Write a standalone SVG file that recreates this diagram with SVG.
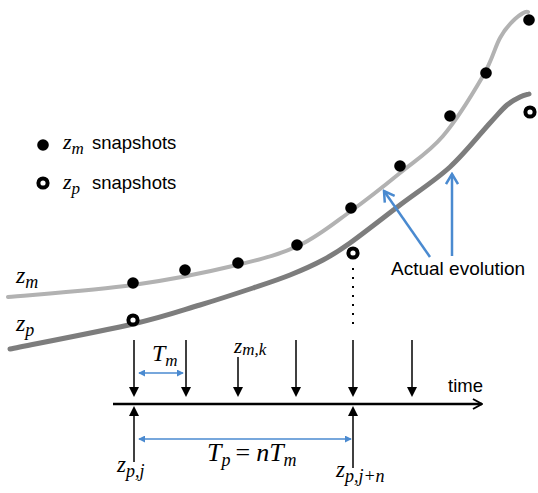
<svg xmlns="http://www.w3.org/2000/svg" width="538" height="493" viewBox="0 0 538 493">
<style>
.math{font-family:"Liberation Serif","DejaVu Serif",serif;font-style:italic;fill:#000}
.up{font-family:"Liberation Serif","DejaVu Serif",serif;font-style:normal;fill:#000}
.sans{font-family:"Liberation Sans",Arial,sans-serif;fill:#000}
.tick{stroke:#000;stroke-width:1.5;fill:none}
.blue{stroke:#4a8ad0;fill:none}
.dot{fill:#000}
.ring{fill:#fff;stroke:#000;stroke-width:4}
</style>
<defs>
<marker id="ah" viewBox="0 0 10 10" refX="7" refY="5" markerWidth="10" markerHeight="10" markerUnits="userSpaceOnUse" orient="auto">
<path d="M0,0 L10,5 L0,10 z" fill="#000"/>
</marker>
<marker id="chev" viewBox="0 0 12 12" refX="11" refY="6" markerWidth="12" markerHeight="12" markerUnits="userSpaceOnUse" orient="auto">
<path d="M2,1 L11,6 L2,11" fill="none" stroke="#000" stroke-width="2"/>
</marker>
<marker id="bh" viewBox="0 0 8 8" refX="7" refY="4" markerWidth="7" markerHeight="7" markerUnits="userSpaceOnUse" orient="auto-start-reverse">
<path d="M0,0 L8,4 L0,8 z" fill="#4a8ad0"/>
</marker>
<marker id="bchev" viewBox="0 0 14 14" refX="12" refY="7" markerWidth="14" markerHeight="14" markerUnits="userSpaceOnUse" orient="auto">
<path d="M2,1 L12,7 L2,13" fill="none" stroke="#4a8ad0" stroke-width="2.5"/>
</marker>
</defs>
<rect width="538" height="493" fill="#fff"/>

<g id="curves">
<path id="zm-curve" d="M8,297 C28.8,295 94.8,290.3 133,285 C171.2,279.7 209.2,271.7 237,265 C264.8,258.3 281,254 300,245 C319,236 334.3,223 351,211 C367.7,199 384.7,185.5 400,173 C415.3,160.5 429.2,152.2 443,136 C456.8,119.8 473.5,92.3 483,76 C492.5,59.7 494.7,47.5 500,38 C505.3,28.5 510.3,23.3 515,19 C519.7,14.7 525.8,10.8 528,12" fill="none" stroke="#b2b2b2" stroke-width="4" stroke-linecap="round"/>
<path id="zp-curve" d="M10,349 C30.5,344.8 101.3,331.3 133,324 C164.7,316.7 180,311 200,305 C220,299 238,293 253,288 C268,283 278.3,279.7 290,275 C301.7,270.3 313,265.3 323,260 C333,254.7 337.2,252.2 350,243 C362.8,233.8 383.3,217.7 400,205 C416.7,192.3 435,180.7 450,167 C465,153.3 480.5,133.3 490,123 C499.5,112.7 502,109.3 507,105 C512,100.7 516.3,98.8 520,97 C523.7,95.2 527.5,94.5 529,94" fill="none" stroke="#7d7d7d" stroke-width="5" stroke-linecap="round"/>
</g>

<g id="zm-snapshots">
<circle class="dot" cx="133" cy="283" r="5.8"/>
<circle class="dot" cx="185" cy="270" r="5.8"/>
<circle class="dot" cx="238" cy="263" r="5.8"/>
<circle class="dot" cx="297" cy="245" r="5.8"/>
<circle class="dot" cx="351" cy="208" r="5.8"/>
<circle class="dot" cx="400" cy="166" r="5.8"/>
<circle class="dot" cx="450" cy="116" r="5.8"/>
<circle class="dot" cx="486" cy="73" r="5.8"/>
<circle class="dot" cx="529" cy="20" r="5.8"/>
</g>

<g id="zp-snapshots">
<circle class="ring" cx="133" cy="320" r="4.6"/>
<circle class="ring" cx="353" cy="253" r="4.6"/>
<circle class="ring" cx="530" cy="112" r="4.6"/>
</g>

<g id="legend">
<circle class="dot" cx="43" cy="145" r="5.8"/>
<text class="math" x="63" y="149" font-size="22">z<tspan font-size="17" dy="5">m</tspan></text>
<text class="sans" x="92" y="149" font-size="18.5">snapshots</text>
<circle class="ring" cx="43" cy="183" r="4.6"/>
<text class="math" x="63" y="189" font-size="22">z<tspan font-size="17" dy="5">p</tspan></text>
<text class="sans" x="92" y="189" font-size="18.5">snapshots</text>
</g>

<g id="curve-labels">
<text class="math" x="16" y="283" font-size="24">z<tspan font-size="18" dy="5">m</tspan></text>
<text class="math" x="16" y="331" font-size="24">z<tspan font-size="18" dy="5">p</tspan></text>
</g>

<g id="actual-evolution">
<text class="sans" x="391" y="275" font-size="19">Actual evolution</text>
</g>

<g id="connectors">
<line class="blue" x1="430" y1="257" x2="384" y2="191" stroke-width="2.5" marker-end="url(#bchev)"/>
<line class="blue" x1="452" y1="256" x2="452" y2="174" stroke-width="2.5" marker-end="url(#bchev)"/>
<line x1="353" y1="268" x2="353" y2="326" stroke="#000" stroke-width="2" stroke-dasharray="2 7"/>
<line x1="113" y1="404" x2="482" y2="404" stroke="#000" stroke-width="2.5" marker-end="url(#chev)"/>
<line class="tick" x1="134" y1="340" x2="134" y2="394" marker-end="url(#ah)"/>
<line class="tick" x1="186" y1="340" x2="186" y2="394" marker-end="url(#ah)"/>
<line class="tick" x1="238" y1="357" x2="238" y2="394" marker-end="url(#ah)"/>
<line class="tick" x1="296" y1="340" x2="296" y2="394" marker-end="url(#ah)"/>
<line class="tick" x1="353" y1="340" x2="353" y2="394" marker-end="url(#ah)"/>
<line class="tick" x1="412" y1="340" x2="412" y2="394" marker-end="url(#ah)"/>
<line class="tick" x1="134" y1="462" x2="134" y2="409" marker-end="url(#ah)"/>
<line class="tick" x1="353" y1="468" x2="353" y2="409" marker-end="url(#ah)"/>
<line class="blue" x1="139" y1="373" x2="183" y2="373" stroke-width="1.5" marker-start="url(#bh)" marker-end="url(#bh)"/>
<line class="blue" x1="139" y1="439" x2="351" y2="439" stroke-width="1.5" marker-start="url(#bh)" marker-end="url(#bh)"/>
</g>

<g id="timeline-labels">
<text class="sans" x="448" y="392" font-size="18.5">time</text>
<text class="math" x="152" y="361" font-size="24">T<tspan font-size="17" dy="5">m</tspan></text>
<text class="math" x="234" y="353" font-size="21">z<tspan font-size="17" dy="2">m,k</tspan></text>
<text class="math" x="207" y="461" font-size="26">T<tspan font-size="18" dy="5">p</tspan><tspan class="up" dy="-5" dx="5">=</tspan><tspan dx="6">nT</tspan><tspan font-size="18" dy="5">m</tspan></text>
<text class="math" x="117" y="472" font-size="23">z<tspan font-size="18" dy="5">p,j</tspan></text>
<text class="math" x="336" y="477" font-size="23">z<tspan font-size="18" dy="5">p,j+n</tspan></text>
</g>
</svg>
